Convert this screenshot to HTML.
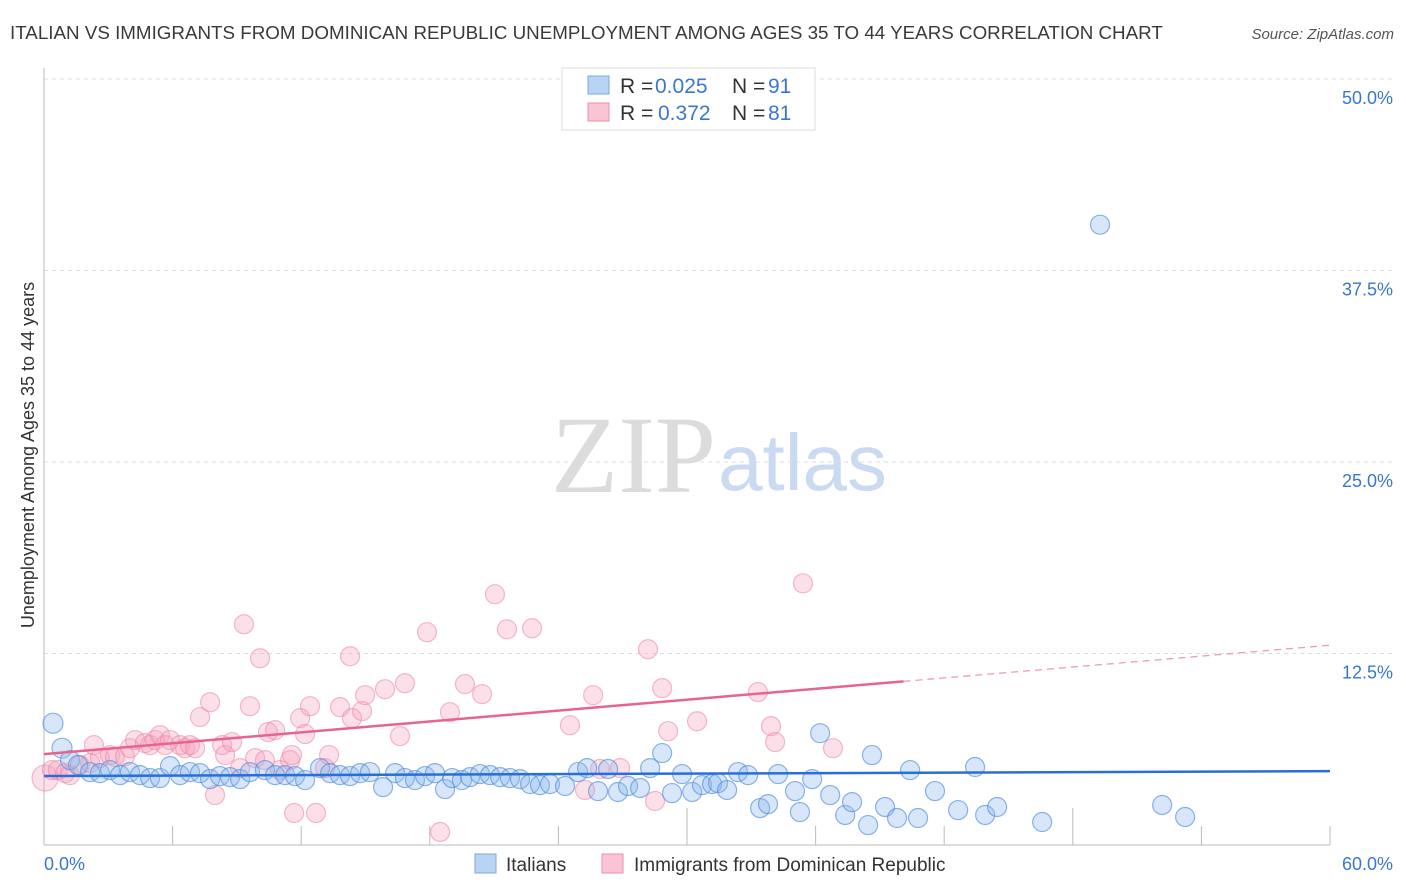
<!DOCTYPE html>
<html><head><meta charset="utf-8"><style>
body{margin:0;background:#fff;font-family:"Liberation Sans",sans-serif;}
#wrap{position:relative;width:1406px;height:892px;overflow:hidden;}
</style></head><body>
<div id="wrap">
<svg id="svg" width="1406" height="892" xmlns="http://www.w3.org/2000/svg">
<text x="10" y="39" font-size="18.8" fill="#3a3a3a">ITALIAN VS IMMIGRANTS FROM DOMINICAN REPUBLIC UNEMPLOYMENT AMONG AGES 35 TO 44 YEARS CORRELATION CHART</text>
<text x="1394" y="39" font-size="15" fill="#555" font-style="italic" text-anchor="end">Source: ZipAtlas.com</text>
<text x="716" y="492" font-size="110" fill="#dcdcdc" text-anchor="end" font-family="Liberation Serif, serif">ZIP</text>
<text x="718" y="490" font-size="80" fill="#c9daf2">atlas</text>
<text transform="translate(34,455) rotate(-90)" font-size="18" fill="#333" text-anchor="middle">Unemployment Among Ages 35 to 44 years</text>
<g id="grid"></g><g id="pts"></g><g id="lines"></g>
<g>
<rect x="562" y="68" width="253" height="62" fill="#fff" stroke="#ddd"/>
<rect x="588" y="76" width="21" height="18" fill="#b9d3f3" stroke="#7aa7e3"/>
<rect x="588" y="103" width="21" height="18" fill="#fac4d4" stroke="#f08cac"/>
<text y="93" font-size="21"><tspan x="620" fill="#333">R = </tspan><tspan x="655" fill="#3a76d0">0.025</tspan><tspan x="732" fill="#333">N = </tspan><tspan x="768" fill="#3a76d0">91</tspan></text>
<text y="120" font-size="21"><tspan x="620" fill="#333">R = </tspan><tspan x="658" fill="#3a76d0">0.372</tspan><tspan x="732" fill="#333">N = </tspan><tspan x="768" fill="#3a76d0">81</tspan></text>
</g>
<rect x="475" y="854" width="21" height="19" fill="#b9d3f3" stroke="#7aa7e3"/>
<text x="506" y="871" font-size="19" fill="#333">Italians</text>
<rect x="602" y="854" width="21" height="19" fill="#fac4d4" stroke="#f08cac"/>
<text x="634" y="871" font-size="19" fill="#333">Immigrants from Dominican Republic</text>
</svg></div>
<script>
const yTicks=[12.5,25,37.5,50];
const yTickLabels=["12.5%","25.0%","37.5%","50.0%"];
const xTicks=[0,6,12,18,24,30,36,42,48,54,60];
const xMajor=[30,48];
const italiansX=[0.42,0.84,1.21,1.59,2.15,2.61,3.08,3.55,4.01,4.48,4.95,5.41,5.88,6.35,6.81,7.28,7.75,8.21,8.68,9.15,9.61,10.31,10.78,11.25,11.71,12.18,12.88,13.35,13.81,14.28,14.75,15.21,15.82,16.38,16.84,17.31,17.78,18.24,18.71,19.04,19.5,19.88,20.34,20.81,21.28,21.74,22.21,22.68,23.14,23.61,24.31,24.92,25.34,25.85,26.32,26.78,27.25,27.81,28.28,28.84,29.3,29.77,30.24,30.7,31.17,31.45,31.87,32.38,32.85,33.41,33.78,34.25,35.04,35.27,35.84,36.21,36.68,37.38,37.7,38.45,38.63,39.24,39.8,40.41,40.78,41.57,42.65,43.44,43.91,44.47,46.57,49.27,52.17,53.24];
const italiansY=[7.95,6.32,5.54,5.22,4.76,4.69,4.89,4.56,4.76,4.56,4.37,4.37,5.15,4.56,4.76,4.69,4.3,4.5,4.43,4.3,4.76,4.89,4.56,4.56,4.5,4.24,5.02,4.69,4.56,4.5,4.69,4.76,3.78,4.69,4.37,4.24,4.5,4.69,3.65,4.37,4.24,4.43,4.63,4.56,4.43,4.37,4.3,3.98,3.91,3.98,3.85,4.76,5.02,3.52,4.96,3.46,3.85,3.72,5.02,6.0,3.39,4.63,3.46,3.91,3.98,4.04,3.59,4.76,4.56,2.41,2.67,4.63,3.52,2.15,4.3,7.3,3.26,1.96,2.8,1.3,5.87,2.48,1.76,4.89,1.76,3.52,2.28,5.09,1.96,2.48,1.5,40.49,2.61,1.83];
const domX=[0.05,0.37,0.65,0.98,1.21,1.68,2.15,2.33,2.61,3.08,3.31,3.78,4.01,4.25,4.71,4.95,5.18,5.41,5.65,5.88,6.35,6.58,6.81,7.05,7.28,7.75,7.98,8.31,8.45,8.77,9.15,9.33,9.61,9.85,10.08,10.31,10.45,10.78,11.01,11.48,11.57,11.67,11.95,12.18,12.41,12.69,13.11,13.3,13.81,14.28,14.37,14.84,14.98,15.91,16.61,16.84,17.87,18.48,18.94,19.64,20.44,21.04,21.6,22.77,24.54,25.24,25.62,25.94,26.88,28.18,28.51,28.84,29.12,30.47,33.31,33.92,34.11,35.41,36.81];
const domY=[4.37,4.89,4.89,4.69,4.56,5.22,5.35,6.52,5.67,5.87,5.74,5.8,6.32,6.85,6.65,6.52,6.85,7.17,6.52,6.85,6.52,6.32,6.52,6.32,8.35,9.32,3.26,6.52,5.87,6.72,5.02,14.41,9.06,5.67,12.19,5.54,7.37,7.5,4.89,5.54,5.87,2.09,8.28,7.24,9.06,2.09,5.02,5.87,9.0,12.32,8.28,8.74,9.78,10.17,7.11,10.56,13.89,0.85,8.67,10.5,9.85,16.37,14.08,14.15,7.82,3.59,9.78,4.96,5.02,12.78,2.87,10.24,7.43,8.08,9.98,7.76,6.72,17.08,6.32];
const italTrend=[4.5,4.82];
const domTrend=[5.93,13.04];
const domSolidEnd=40.1;

const NS="http://www.w3.org/2000/svg";
const X0=44,X1=1330,Y0=845,YTOP=79;
const sx=v=>X0+(v/60)*(X1-X0);
const sy=v=>Y0-(v/50)*(Y0-YTOP);
function mk(tag,attrs,parent){const e=document.createElementNS(NS,tag);for(const k in attrs)e.setAttribute(k,attrs[k]);parent.appendChild(e);return e;}
const grid=document.getElementById('grid');
yTicks.forEach((t,i)=>{
  const l=mk('line',{x1:X0,x2:1395,y1:sy(t),y2:sy(t),stroke:'#ddd','stroke-dasharray':'4,4'},grid);
  
  
  const tx=mk('text',{x:1393,y:sy(t)+25,'font-size':18,fill:'#3a76d0','text-anchor':'end'},grid);
  tx.textContent=yTickLabels[i];
  
  
});
const ax=mk('line',{x1:X0,x2:X0,y1:68,y2:Y0,stroke:'#bbb'},grid);


const bx=mk('line',{x1:X0,x2:X1,y1:Y0,y2:Y0,stroke:'#bbb'},grid);


xTicks.forEach(t=>{
  const tall=xMajor.includes(t);
  const tk=mk('line',{x1:sx(t),x2:sx(t),y1:tall?808:826,y2:Y0,stroke:'#bbb'},grid);
  
  
});
[[0,'0.0%','start',44],[60,'60.0%','end',1393]].forEach(a=>{
  const t=mk('text',{x:a[3],y:870,'font-size':18,fill:'#3a76d0','text-anchor':a[2]},grid);
  t.textContent=a[1];
  
  
});
const pts=document.getElementById('pts');
domX.forEach((x,i)=>{
  const c=mk('circle',{cx:sx(x),cy:sy(domY[i]),r:i===0?13:9.5,fill:'rgba(246,160,188,0.32)',stroke:'rgba(236,130,165,0.55)','stroke-width':1.2},pts);
  
  
});
italiansX.forEach((x,i)=>{
  const c=mk('circle',{cx:sx(x),cy:sy(italiansY[i]),r:i<2?10:9.5,fill:'rgba(140,184,236,0.35)',stroke:'rgba(80,140,220,0.65)','stroke-width':1.2},pts);
  
  
});
const lines=document.getElementById('lines');
const il=mk('line',{x1:sx(0),y1:sy(italTrend[0]),x2:sx(60),y2:sy(italTrend[1]),stroke:'#2a6fd6','stroke-width':2.5},lines);


const dAt=x=>domTrend[0]+(domTrend[1]-domTrend[0])*x/60;
const dl=mk('line',{x1:sx(0),y1:sy(dAt(0)),x2:sx(domSolidEnd),y2:sy(dAt(domSolidEnd)),stroke:'#e8638f','stroke-width':2.5},lines);


const dd=mk('line',{x1:sx(domSolidEnd),y1:sy(dAt(domSolidEnd)),x2:sx(60),y2:sy(dAt(60)),stroke:'#ef9ab6','stroke-width':1.3,'stroke-dasharray':'7,5'},lines);


</script>
</body></html>
